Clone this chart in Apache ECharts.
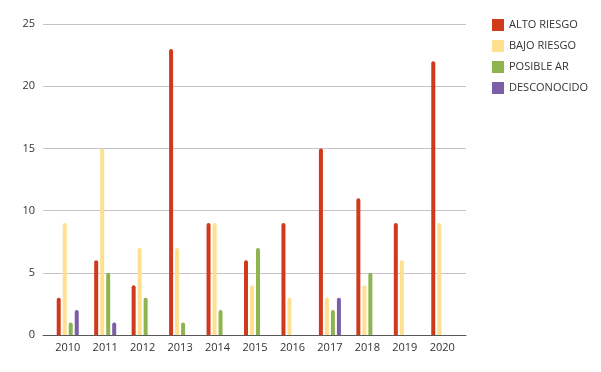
<!DOCTYPE html>
<html>
<head>
<meta charset="utf-8">
<script src="https://cdn.jsdelivr.net/npm/echarts@6/dist/echarts.min.js"></script>
<style>
	html, body { margin: 0; padding: 0; background: #fff; }
	#main { width: 601px; height: 372px; }
</style>
</head>
<body>
<div id="main"></div>
<script>
// datos (0 = sin barra)
var years = ['2010', '2011', '2012', '2013', '2014', '2015', '2016', '2017', '2018', '2019', '2020'];
var altoRiesgo = [3, 6, 4, 23, 9, 6, 9, 15, 11, 9, 22];
var bajoRiesgo = [9, 15, 7, 7, 9, 4, 3, 3, 4, 6, 9];
var posibleAr = [1, 5, 3, 1, 2, 7, 0, 2, 5, 0, 0];
var desconocido = [2, 1, 0, 0, 0, 0, 0, 3, 0, 0, 0];
var yTicks = [0, 5, 10, 15, 20, 25];

var names = ['ALTO RIESGO', 'BAJO RIESGO', 'POSIBLE AR', 'DESCONOCIDO'];
var colors = ['#D03A1B', '#FFE08F', '#8FB34F', '#7B5EA7'];
var values = [altoRiesgo, bajoRiesgo, posibleAr, desconocido];
var font = '"Open Sans", "DejaVu Sans", sans-serif';

function noZero(arr) {
	return arr.map(function(v) { return v === 0 ? '-' : v; });
}

var series = [];
for (var i = 0; i < names.length; i++) {
	series.push({
		name: names[i],
		type: 'bar',
		xAxisIndex: 0,
		yAxisIndex: 0,
		barWidth: 4,
		barGap: '50%',
		itemStyle: { color: colors[i], borderRadius: [2, 2, 0, 0] },
		data: noZero(values[i])
	});
}

var myChart = echarts.init(document.getElementById('main'));
var option = {
	animation: false,
	textStyle: { fontFamily: font },
	legend: {
		orient: 'vertical',
		left: 487,
		top: 14,
		itemWidth: 12,
		itemHeight: 12,
		itemGap: 9,
		icon: 'rect',
		data: names,
		textStyle: { fontSize: 11, color: '#333', fontFamily: font }
	},
	grid: [
		{ left: 49, right: 140, top: 24, bottom: 37 },
		{ left: 43, right: 135, top: 24, bottom: 37 }
	],
	xAxis: [{
		type: 'category',
		gridIndex: 0,
		data: years,
		axisLine: { show: false },
		axisTick: { show: false },
		axisLabel: { color: '#333', fontSize: 11, margin: 7, fontFamily: font }
	}, {
		type: 'category',
		gridIndex: 1,
		data: years,
		axisLine: { show: true, lineStyle: { color: '#595959', width: 1 } },
		axisTick: { show: false },
		axisLabel: { show: false }
	}],
	yAxis: [{
		type: 'value',
		gridIndex: 0,
		min: yTicks[0],
		max: yTicks[yTicks.length - 1],
		interval: 5,
		show: false,
		splitLine: { show: false }
	}, {
		type: 'value',
		gridIndex: 1,
		min: yTicks[0],
		max: yTicks[yTicks.length - 1],
		interval: 5,
		axisLine: { show: false },
		axisTick: { show: false },
		axisLabel: { color: '#333', fontSize: 11, margin: 8, fontFamily: font },
		splitLine: { lineStyle: { color: '#C9C1C9', width: 1 } }
	}],
	series: series
};
myChart.setOption(option);
</script>
</body>
</html>
